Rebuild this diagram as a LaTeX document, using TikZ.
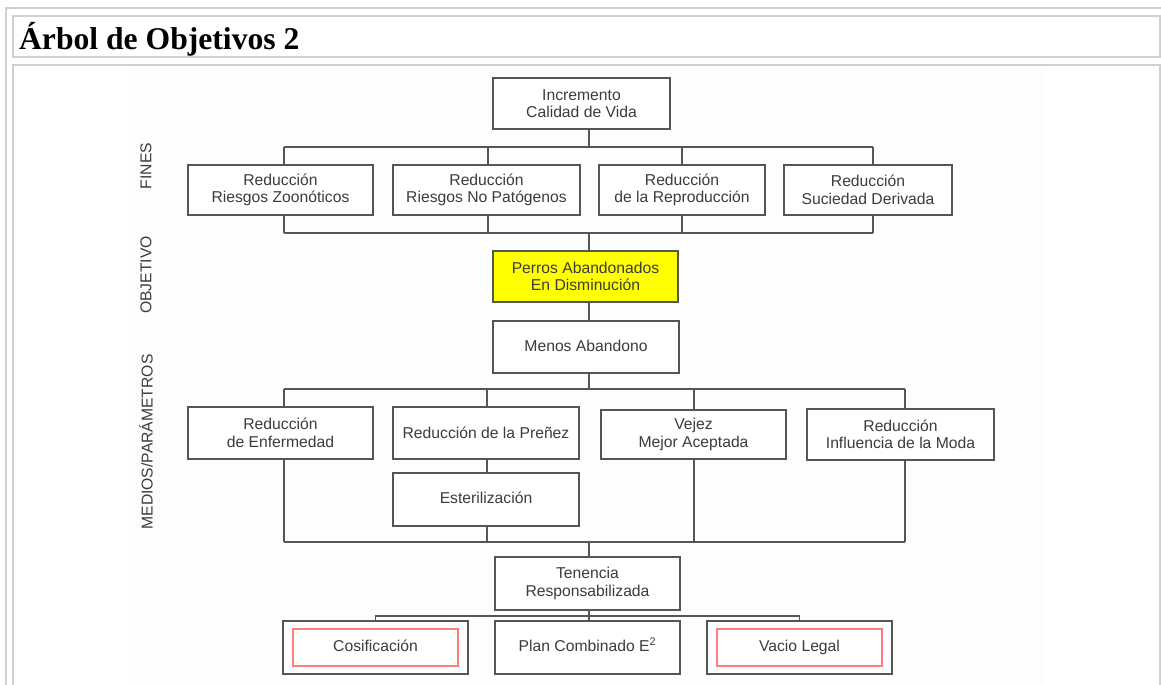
\documentclass[tikz,border=0pt]{standalone}
\usepackage{fontspec}
\setmainfont{Liberation Sans}
\newfontfamily\titlefont{Liberation Serif}
\usepackage{tikz}
\usetikzlibrary{positioning, calc}

\definecolor{tablegray}{RGB}{208,208,208}
\definecolor{linegray}{RGB}{85,85,85}
\definecolor{textgray}{RGB}{60,60,60}
\definecolor{imgback}{RGB}{252,253,252}
\definecolor{objyellow}{RGB}{255,255,0}
\definecolor{innerred}{RGB}{255,125,125}

\def\px{0.03cm}

\begin{document}
\begin{tikzpicture}[x=0.03cm, y=-0.03cm,
    caja/.style={draw=linegray, fill=white, line width=0.9pt, inner sep=0pt,
        align=center, text=textgray, font=\fontsize{13.4}{15}\selectfont},
    unalinea/.style={text height=0.72em, text depth=0em},
    rojo/.style={draw=innerred, line width=0.9pt, inner sep=0pt, unalinea,
        text=textgray, font=\fontsize{13.4}{15}\selectfont},
    linea/.style={draw=linegray, line width=0.9pt},
    etiqueta/.style={rotate=90, text=textgray, font=\fontsize{13.4}{15}\selectfont},
    titulo/.style={font=\titlefont\bfseries\fontsize{27}{30}\selectfont}]

    \useasboundingbox (0,0) rectangle (1161,685);

    % table borders
    \draw[tablegray, line width=1.2pt] (6,685) -- (6,8) -- (1161,8);
    \draw[tablegray, line width=1.2pt] (13,16) rectangle (1160,57);
    \fill[imgback] (128,66) rectangle (1043,685);
    \draw[tablegray, line width=1.2pt] (13,685) -- (13,65) -- (1160,65) -- (1160,685);

    \node[titulo, anchor=base west] (titulo) at (15,50) {Árbol de Objetivos 2};

    % side labels
    \node[etiqueta] (lfines) at (146,166) {FINES};
    \node[etiqueta] (lobj) at (146,275) {OBJETIVO};
    \node[etiqueta] (lmedios) at (146,442) {MEDIOS/PARÁMETROS};

    % bus coordinates
    \coordinate (busA) at (589,147);
    \coordinate (busB) at (589,233);
    \coordinate (busC) at (589,389);
    \coordinate (busD) at (589,542);
    \coordinate (busE) at (589,616);

    % top
    \node[caja, minimum width=177*\px, minimum height=51*\px] (inc) at (581.5,103.5)
        {Incremento\\Calidad de Vida};
    \draw[linea] (inc.south -| busA) -- (busA);

    % fines
    \foreach \n/\cx/\w/\dx/\txt in {
        f1/280.5/185/284/{Reducción\\Riesgos Zoonóticos},
        f2/486.5/187/488/{Reducción\\Riesgos No Patógenos},
        f3/682/166/682/{Reducción\\de la Reproducción},
        f4/868/168/873/{Reducción\\Suciedad Derivada}}
    {
        \node[caja, minimum width=\w*\px, minimum height=50*\px] (\n) at (\cx,190) {\txt};
        \coordinate (\n-d) at (\dx,190);
        \draw[linea] (busA -| \n-d) -- (\n.north -| \n-d);
        \draw[linea] (\n.south -| \n-d) -- (busB -| \n-d);
    }
    \draw[linea] (busA -| f1-d) -- (busA -| f4-d);
    \draw[linea] (busB -| f1-d) -- (busB -| f4-d);

    % objetivo
    \node[caja, fill=objyellow, minimum width=185*\px, minimum height=51*\px] (obj) at (585.5,276.5)
        {Perros Abandonados\\En Disminución};
    \node[caja, unalinea, minimum width=186*\px, minimum height=52*\px] (menos) at (586,347)
        {Menos Abandono};
    \draw[linea] (busB) -- (obj.north -| busB);
    \draw[linea] (obj.south -| busB) -- (menos.north -| busB);
    \draw[linea] (menos.south -| busB) -- (busC);

    % medios
    \foreach \n/\cx/\cy/\w/\h/\dx/\txt in {
        m1/280.5/433/185/52/284/{Reducción\\de Enfermedad},
        m2/486/433/186/52/487/{Reducción de la Preñez},
        m3/693.5/434.5/185/49/694/{Vejez\\Mejor Aceptada},
        m4/900.5/434.5/187/51/905/{Reducción\\Influencia de la Moda}}
    {
        \node[caja, minimum width=\w*\px, minimum height=\h*\px] (\n) at (\cx,\cy) {\txt};
        \coordinate (\n-d) at (\dx,\cy);
        \draw[linea] (busC -| \n-d) -- (\n.north -| \n-d);
    }
    \node[caja, unalinea, minimum width=186*\px, minimum height=53*\px] (est) at (486,499.5)
        {Esterilización};
    \draw[linea] (busC -| m1-d) -- (busC -| m4-d);
    \draw[linea] (m2.south -| m2-d) -- (est.north -| m2-d);
    \foreach \n in {m1, m3, m4}
        \draw[linea] (\n.south -| \n-d) -- (busD -| \n-d);
    \draw[linea] (est.south -| m2-d) -- (busD -| m2-d);
    \draw[linea] (busD -| m1-d) -- (busD -| m4-d);

    % tenencia
    \node[caja, minimum width=185*\px, minimum height=53*\px] (ten) at (587.5,583.5)
        {Tenencia\\Responsabilizada};
    \draw[linea] (busD) -- (ten.north -| busD);

    \node[caja, minimum width=185*\px, minimum height=53*\px] (cos) at (375.5,647.5) {};
    \node[rojo, minimum width=165*\px, minimum height=37*\px] (cos-in) at (cos.center) {Cosificación};
    \node[caja, unalinea, minimum width=185*\px, minimum height=53*\px] (plan) at (587.5,647.5)
        {Plan Combinado E\textsuperscript{2}};
    \node[caja, minimum width=185*\px, minimum height=53*\px] (vac) at (799.5,647.5) {};
    \node[rojo, minimum width=165*\px, minimum height=37*\px] (vac-in) at (vac.center) {Vacio Legal};

    \draw[linea] (ten.south -| busE) -- (plan.north -| busE);
    \draw[linea] (cos.north) |- (busE) -| (vac.north);
\end{tikzpicture}
\end{document}
